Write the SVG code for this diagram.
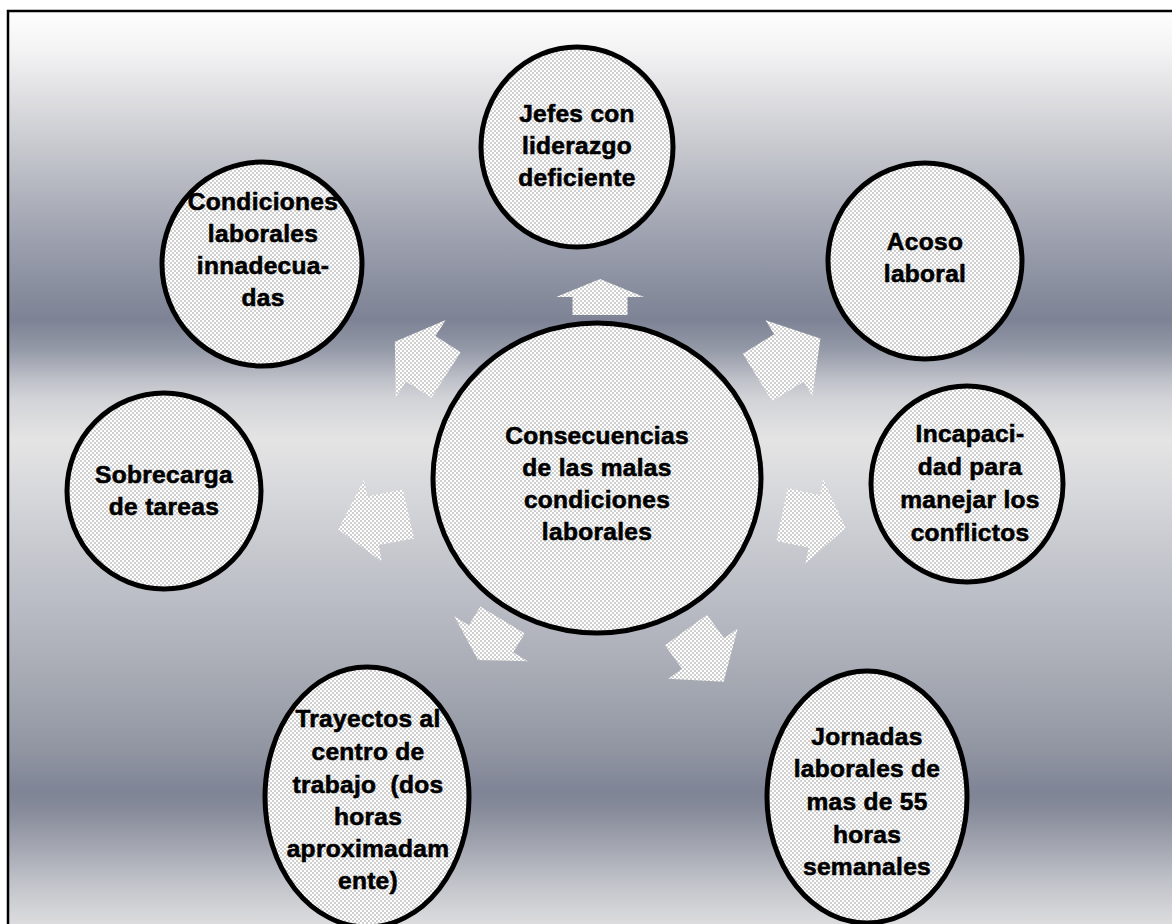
<svg xmlns="http://www.w3.org/2000/svg" width="1172" height="924" viewBox="0 0 1172 924">
<defs>
<linearGradient id="bg" gradientUnits="userSpaceOnUse" x1="0" y1="11" x2="0" y2="924">
<stop offset="0" stop-color="#fefefe"/>
<stop offset="0.044" stop-color="#f3f3f4"/>
<stop offset="0.098" stop-color="#dddde0"/>
<stop offset="0.153" stop-color="#c5c7cd"/>
<stop offset="0.207" stop-color="#aeb1bb"/>
<stop offset="0.262" stop-color="#989cab"/>
<stop offset="0.316" stop-color="#858a9b"/>
<stop offset="0.338" stop-color="#7d8295"/>
<stop offset="0.371" stop-color="#959aa8"/>
<stop offset="0.404" stop-color="#bfc1c9"/>
<stop offset="0.426" stop-color="#d3d4d8"/>
<stop offset="0.47" stop-color="#e4e4e4"/>
<stop offset="0.536" stop-color="#d5d6da"/>
<stop offset="0.59" stop-color="#c7c9cf"/>
<stop offset="0.645" stop-color="#babdc5"/>
<stop offset="0.7" stop-color="#aeb1ba"/>
<stop offset="0.755" stop-color="#a0a4ae"/>
<stop offset="0.81" stop-color="#9195a2"/>
<stop offset="0.855" stop-color="#7f8496"/>
<stop offset="0.875" stop-color="#878b9a"/>
<stop offset="0.919" stop-color="#a6a9b3"/>
<stop offset="0.952" stop-color="#bfc1c8"/>
<stop offset="0.985" stop-color="#d3d4d7"/>
<stop offset="1" stop-color="#dcdcde"/>
</linearGradient>
<pattern id="chk" patternUnits="userSpaceOnUse" x="0" y="0" width="4" height="4">
<rect width="4" height="4" fill="#ffffff"/>
<rect width="2" height="2" fill="#cfcfcf"/>
<rect x="2" y="2" width="2" height="2" fill="#cfcfcf"/>
</pattern>
</defs>
<style>
.node ellipse{fill:url(#chk);stroke:#000;stroke-width:5}
.node text{font-family:"Liberation Sans",Arial,sans-serif;font-weight:bold;font-size:24.5px;letter-spacing:0.3px;text-anchor:middle;fill:#000;stroke:#000;stroke-width:0.6px}
.arr polygon{fill:url(#chk);stroke:none}
</style>
<rect x="8" y="11" width="1172" height="924" fill="url(#bg)" stroke="#000" stroke-width="2.5"/>
<g id="connectors" class="arr">
<polygon points="572.5,315 572.5,297 556,297 600,279 644,297 627.5,297 627.5,315"/>
<polygon points="742.8,353.7 774.2,334.2 765.5,320.2 820.4,338.6 812.4,395.9 803.7,381.8 772.2,401.3"/>
<polygon points="431.3,397.7 406.1,381.4 395.8,397.3 394.8,341.8 445.8,320 435.5,336 460.7,352.3"/>
<polygon points="414.1,538.4 378.9,545.1 381.8,561.7 338.2,529.5 363.9,479.8 367.7,496.3 402.9,489.6"/>
<polygon points="787.6,488.1 819.8,494.9 823.1,479.2 845.6,527.9 805.4,563.4 808.7,547.7 776.4,540.9"/>
<polygon points="707,614.7 724.1,638.2 737.8,628.2 723.6,681.8 668.3,678.7 682,668.8 665,645.3"/>
<polygon points="524.7,633.6 513.2,652.3 527.7,661.2 478,660.1 454.3,616.3 468.8,625.2 480.3,606.4"/>
</g>
<g id="center" class="node">
<ellipse cx="597" cy="478" rx="164" ry="155"/>
<text x="597" y="444">Consecuencias</text>
<text x="597" y="476">de las malas</text>
<text x="597" y="508">condiciones</text>
<text x="597" y="540">laborales</text>
</g>
<g id="jefes" class="node">
<ellipse cx="577" cy="147" rx="96" ry="100"/>
<text x="577" y="122">Jefes con</text>
<text x="577" y="154">liderazgo</text>
<text x="577" y="186">deficiente</text>
</g>
<g id="condiciones" class="node">
<ellipse cx="262" cy="264" rx="100" ry="102"/>
<text x="263" y="210">Condiciones</text>
<text x="263" y="242">laborales</text>
<text x="263" y="274">innadecua-</text>
<text x="263" y="306">das</text>
</g>
<g id="acoso" class="node">
<ellipse cx="925" cy="261" rx="97" ry="98"/>
<text x="925" y="250">Acoso</text>
<text x="925" y="282">laboral</text>
</g>
<g id="sobrecarga" class="node">
<ellipse cx="164" cy="491" rx="97" ry="98"/>
<text x="164" y="483">Sobrecarga</text>
<text x="164" y="515">de tareas</text>
</g>
<g id="incapacidad" class="node">
<ellipse cx="967" cy="484" rx="96" ry="98"/>
<text x="970" y="442">Incapaci-</text>
<text x="970" y="475">dad para</text>
<text x="970" y="508">manejar los</text>
<text x="970" y="541">conflictos</text>
</g>
<g id="trayectos" class="node">
<ellipse cx="367" cy="797" rx="102" ry="130"/>
<text x="368" y="727">Trayectos al</text>
<text x="368" y="760">centro de</text>
<text x="368" y="793" xml:space="preserve">trabajo  (dos</text>
<text x="368" y="825">horas</text>
<text x="368" y="857">aproximadam</text>
<text x="368" y="889">ente)</text>
</g>
<g id="jornadas" class="node">
<ellipse cx="867" cy="797" rx="100" ry="126"/>
<text x="867" y="745">Jornadas</text>
<text x="867" y="777">laborales de</text>
<text x="867" y="810">mas de 55</text>
<text x="867" y="843">horas</text>
<text x="867" y="875">semanales</text>
</g>
</svg>
